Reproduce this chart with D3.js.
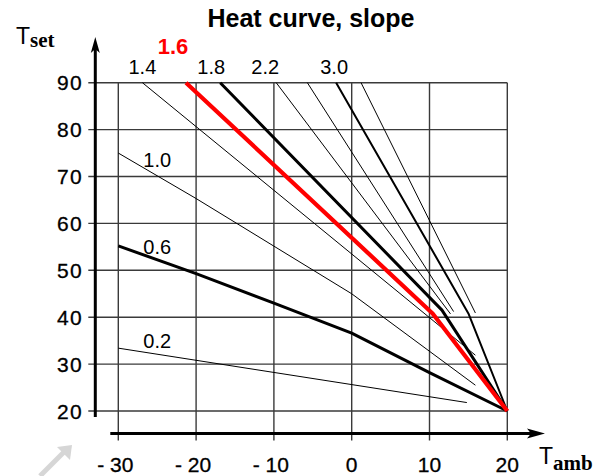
<!DOCTYPE html>
<html lang="en">
<head>
<meta charset="UTF-8">
<title>Heat curve, slope</title>
<script src="https://d3js.org/d3.v7.min.js"></script>
<style>
  body { margin: 0; background: #fff; }
  svg { display: block; font-family: "Liberation Sans", Arial, sans-serif; }
  .grid line { stroke: #3a3a3a; stroke-width: 1.4; }
  .tick-label { font-size: 21px; fill: #000; stroke: #000; stroke-width: 0.3; }
  .slope-label { font-size: 20px; fill: #000; }
</style>
</head>
<body>
<svg width="599" height="476"></svg>
<script>
// ambient / set temperature ticks
var tAmbTicks = [-30, -20, -10, 0, 10, 20];
var tSetTicks = [20, 30, 40, 50, 60, 70, 80, 90];

// slope of each heat curve
var slopes = ["0.2", "0.6", "1.0", "1.4", "1.6", "1.8", "2.2", "2.6", "3.0", "3.5"];

// curve points [T_amb, T_set]
var curve02 = [[-30, 33.4], [14.8, 21.8]];
var curve06 = [[-30, 55.2], [-20, 49.3], [-10, 43], [0, 36.6], [10, 28.2], [20, 20]];
var curve10 = [[-30, 75], [-20, 65.3], [0, 45], [15.9, 25.5]];
var curve14 = [[-26.9, 90], [15.9, 31.9]];
var curve16 = [[-21.3, 90], [10.4, 40.8], [20, 20]];
var curve18 = [[-16.9, 90], [11.6, 41.5], [20, 20]];
var curve22 = [[-9.7, 90], [12.7, 40.7]];
var curve26 = [[-5.7, 90], [13.1, 41.2]];
var curve30 = [[-2, 90], [15, 40.8], [20, 20]];
var curve35 = [[1.2, 90], [15.9, 40.9]];
var curves = [curve02, curve06, curve10, curve14, curve16, curve18, curve22, curve26, curve30, curve35];

// which slopes get a label, and where
var topLabels = ["1.4", "1.6", "1.8", "2.2", "3.0"];
var sideLabels = ["1.0", "0.6", "0.2"];

var styles = {
    "0.2": {w: 1, c: "#000"}, "0.6": {w: 3, c: "#000"}, "1.0": {w: 1, c: "#000"},
    "1.4": {w: 1, c: "#000"}, "1.6": {w: 4.2, c: "#ff0000"}, "1.8": {w: 3, c: "#000"},
    "2.2": {w: 1, c: "#000"}, "2.6": {w: 1, c: "#000"}, "3.0": {w: 2, c: "#000"},
    "3.5": {w: 1, c: "#000"}
};

var svg = d3.select("svg");
var x = d3.scaleLinear().domain([-30, 20]).range([118.3, 507.3]);
var y = d3.scaleLinear().domain([20, 90]).range([411, 82.7]);

var axisX = x(-30) - 23;   // vertical axis position
var axisY = y(20) + 22.5;  // horizontal axis position

// grid
var grid = svg.append("g").attr("class", "grid");
grid.selectAll(".h").data(tSetTicks).join("line")
    .attr("x1", axisX - 7).attr("x2", x(20))
    .attr("y1", d => y(d)).attr("y2", d => y(d));
grid.selectAll(".v").data(tAmbTicks).join("line")
    .attr("y1", y(90)).attr("y2", axisY + 7)
    .attr("x1", d => x(d)).attr("x2", d => x(d));

// axes with arrows
svg.append("line").attr("x1", axisX).attr("x2", axisX)
    .attr("y1", 48).attr("y2", y(20) + 6)
    .attr("stroke", "#000").attr("stroke-width", 3);
svg.append("path")
    .attr("d", "M" + axisX + ",37 L" + (axisX + 4.5) + ",53 L" + axisX + ",49 L" + (axisX - 4.5) + ",53 Z")
    .attr("fill", "#000");
svg.append("line").attr("x1", axisX + 15).attr("x2", 534)
    .attr("y1", axisY).attr("y2", axisY)
    .attr("stroke", "#000").attr("stroke-width", 3);
svg.append("path")
    .attr("d", "M545," + axisY + " L527," + (axisY - 5) + " L531," + axisY + " L527," + (axisY + 5) + " Z")
    .attr("fill", "#000");

// tick labels
svg.selectAll(".ylab").data(tSetTicks).join("text")
    .attr("class", "tick-label")
    .attr("x", axisX - 12).attr("y", d => y(d) + 7.5)
    .attr("text-anchor", "end")
    .style("letter-spacing", "1.5px")
    .text(d => d);
svg.selectAll(".xlab").data(tAmbTicks).join("text")
    .attr("class", "tick-label")
    .attr("x", d => x(d) + (d < 0 ? -3 : 0)).attr("y", 472)
    .attr("text-anchor", "middle")
    .text(d => d < 0 ? "- " + Math.abs(d) : d);

// curves
var line = d3.line().x(d => x(d[0])).y(d => y(d[1]));
var order = [0, 2, 3, 6, 7, 9, 1, 8, 5, 4]; // thin first, red last
order.forEach(function(i) {
    var s = styles[slopes[i]];
    svg.append("path").datum(curves[i])
        .attr("d", line)
        .attr("fill", "none")
        .attr("stroke", s.c)
        .attr("stroke-width", s.w)
        .attr("stroke-linejoin", "round");
});

// slope labels above the top of the grid
var topDx = {"1.4": 0, "1.6": -13, "1.8": -9, "2.2": -11, "3.0": -2};
topLabels.forEach(function(k) {
    var c = curves[slopes.indexOf(k)];
    var red = k === "1.6";
    svg.append("text")
        .attr("class", "slope-label")
        .attr("x", x(c[0][0]) + topDx[k])
        .attr("y", red ? 54 : 74)
        .attr("text-anchor", "middle")
        .style("fill", red ? "#ff0000" : "#000")
        .style("font-weight", red ? "bold" : "normal")
        .style("font-size", red ? "22px" : "20px")
        .text(k);
});

// slope labels on the left curves
var sideDy = {"1.0": -9, "0.6": -6, "0.2": -6};
sideLabels.forEach(function(k) {
    var c = curves[slopes.indexOf(k)];
    var t = -25;
    var v = c[0][1] + (c[1][1] - c[0][1]) * (t - c[0][0]) / (c[1][0] - c[0][0]);
    svg.append("text")
        .attr("class", "slope-label")
        .attr("x", x(t)).attr("y", y(v) + sideDy[k])
        .attr("text-anchor", "middle")
        .text(k);
});

// title and axis names
svg.append("text").attr("x", 311).attr("y", 27)
    .attr("text-anchor", "middle")
    .style("font-size", "25px").style("font-weight", "bold")
    .text("Heat curve, slope");

var tset = svg.append("text").attr("x", 16).attr("y", 43.5).style("font-size", "23px");
tset.append("tspan").text("T");
tset.append("tspan").attr("dy", 3)
    .style("font-family", "'Liberation Serif', serif").style("font-weight", "bold").style("font-size", "21px")
    .text("set");

var tamb = svg.append("text").attr("x", 539).attr("y", 463.5).style("font-size", "23px");
tamb.append("tspan").text("T");
tamb.append("tspan").attr("dy", 6.5)
    .style("font-family", "'Liberation Serif', serif").style("font-weight", "bold").style("font-size", "21px")
    .text("amb");

// faint pointer arrow in the lower left corner
svg.append("line").attr("x1", 40).attr("y1", 476).attr("x2", 64).attr("y2", 452)
    .attr("stroke", "#d6d6d6").attr("stroke-width", 5);
svg.append("path").attr("d", "M72,445 L70,460 L57,447 Z").attr("fill", "#d6d6d6");
</script>
</body>
</html>
